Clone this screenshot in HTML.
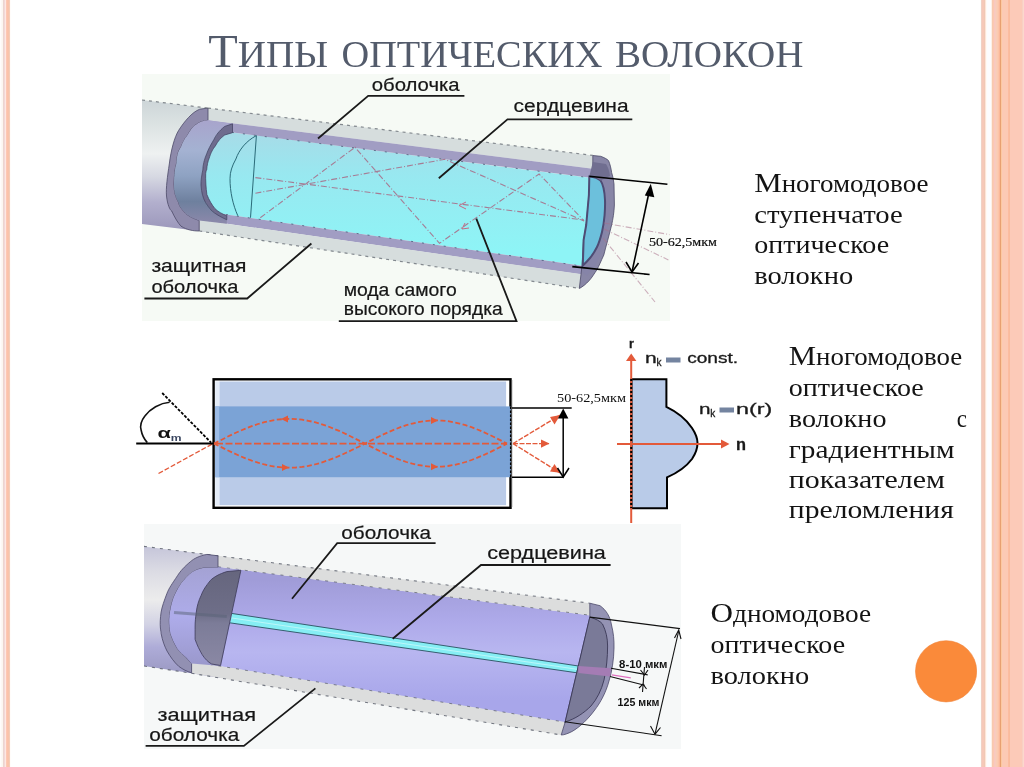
<!DOCTYPE html>
<html><head><meta charset="utf-8">
<style>
html,body{margin:0;padding:0;}
body{width:1024px;height:767px;position:relative;overflow:hidden;background:#fff;font-family:"Liberation Serif",serif;}
.a{position:absolute;}
#lb{left:0;top:0;width:11px;height:767px;background:linear-gradient(90deg,#fefdfb 0,#fefdfb 1px,#fdf8f4 1px,#fdf8f4 2px,#fcf6f0 2px,#fcf6f0 3px,#ecd5cf 3px,#ecd5cf 4px,#f2d8d8 4px,#f2d8d8 5px,#fde8e2 5px,#fde8e2 6px,#fcc8b4 6px,#fcc8b4 7px,#fcc2aa 7px,#fcc2aa 8px,#f8c4aa 8px,#f8c4aa 9px,#f4ccb8 9px,#f4ccb8 10px,#fffcfa 10px);}
#rb{left:980px;top:0;width:44px;height:767px;background:linear-gradient(90deg,#fdfdfb 0,#fdfdfb 1px,#f0d0c4 1px,#f0d0c4 2px,#f6c8b8 2px,#f6c8b8 4px,#f0c8b4 4px,#f0c8b4 5px,#fde4d8 5px,#fde4d8 6px,#fffaf4 6px,#fffaf4 7px,#fcfcfe 7px,#fcfcfe 11px,#fdf0e4 11px,#fdf0e4 12px,#f7c8b0 12px,#f7c8b0 13px,#fcc8b0 13px,#fcc8b0 14px,#f8c8c0 14px,#f8c8c0 15px,#f8ccbc 15px,#f8ccbc 16px,#f8ccb8 16px,#f8ccb8 17px,#fccab0 17px,#fccab0 18px,#fcc4a8 18px,#fcc4a8 19px,#fbb898 19px,#fbb898 20px,#e8a070 20px,#e8a070 21px,#fcc8a0 21px,#fcc8a0 22px,#fccab4 22px,#fccab4 28px,#fcbca0 28px,#fcbca0 29px,#f9bc9c 29px,#f9bc9c 30px,#fccab8 30px,#fccab8 42px,#f8d0c4 42px,#f8d0c4 43px,#fcd8cc 43px);}
</style></head><body>
<div id="lb" class="a"></div>
<div id="rb" class="a"></div>

<svg class="a" style="left:0;top:0" width="1024" height="767" viewBox="0 0 1024 767">
<defs>
<linearGradient id="gj1" gradientUnits="userSpaceOnUse" x1="0" y1="100" x2="0" y2="228">
<stop offset="0" stop-color="#cdd5d8"/><stop offset="0.18" stop-color="#dbe2e2"/><stop offset="0.42" stop-color="#eef1f1"/><stop offset="0.6" stop-color="#d6d8e2"/><stop offset="0.8" stop-color="#b2afcd"/><stop offset="1" stop-color="#9d99bc"/>
</linearGradient>
<linearGradient id="gc1" gradientUnits="userSpaceOnUse" x1="0" y1="135" x2="0" y2="250">
<stop offset="0" stop-color="#a6dce8"/><stop offset="0.35" stop-color="#98e8f0"/><stop offset="1" stop-color="#8ef4f6"/>
</linearGradient>
<linearGradient id="gf1" gradientUnits="userSpaceOnUse" x1="0" y1="120" x2="0" y2="222">
<stop offset="0" stop-color="#a8a4cc"/><stop offset="0.3" stop-color="#a4b2d2"/><stop offset="0.55" stop-color="#8ea2c2"/><stop offset="0.8" stop-color="#6e809e"/><stop offset="1" stop-color="#8a88aa"/>
</linearGradient>
<linearGradient id="gj3" gradientUnits="userSpaceOnUse" x1="0" y1="547" x2="0" y2="672">
<stop offset="0" stop-color="#c6c6da"/><stop offset="0.2" stop-color="#dcdce4"/><stop offset="0.42" stop-color="#ececec"/><stop offset="0.62" stop-color="#d2d2e4"/><stop offset="0.8" stop-color="#aeacd8"/><stop offset="1" stop-color="#9c9ac4"/>
</linearGradient>
<linearGradient id="gcl3" gradientUnits="userSpaceOnUse" x1="0" y1="580" x2="0" y2="700">
<stop offset="0" stop-color="#a09cd8"/><stop offset="0.35" stop-color="#aeaaea"/><stop offset="0.6" stop-color="#b8b6f0"/><stop offset="1" stop-color="#a8a6ea"/>
</linearGradient>
<linearGradient id="gf3" gradientUnits="userSpaceOnUse" x1="0" y1="568" x2="0" y2="665">
<stop offset="0" stop-color="#a4a2d4"/><stop offset="0.5" stop-color="#aeacea"/><stop offset="1" stop-color="#9a98cc"/>
</linearGradient>
<linearGradient id="gd3" gradientUnits="userSpaceOnUse" x1="0" y1="572" x2="0" y2="665">
<stop offset="0" stop-color="#66667e"/><stop offset="0.45" stop-color="#6e6e88"/><stop offset="0.55" stop-color="#7c7c98"/><stop offset="1" stop-color="#8a88a4"/>
</linearGradient>
</defs>

<g id="d1">
<rect x="142" y="74" width="528" height="247" fill="#f6faf5"/>
<!-- intact jacket cylinder -->
<path d="M142 100 L210 108.4 L210 232 L199.2 231 L142 224 Z" fill="url(#gj1)"/>
<!-- core -->
<path d="M205 128.9 L594 178.3 L585 266.2 L205 211.4 Z" fill="url(#gc1)"/>
<!-- top jacket strip -->
<path d="M208 108.1 L592.8 155.4 L592.8 168.8 L208 120.3 Z" fill="#d6dddd"/>
<path d="M208 108.1 L592.8 155.4" stroke="#6a7078" stroke-width="1.2" stroke-dasharray="3 4" fill="none" opacity="0.8"/>
<!-- top cladding band -->
<path d="M208 120.3 L592.8 168.8 L592.8 178.1 L208 129.3 Z" fill="#a19dc3"/>
<path d="M232 132.4 L592.8 178.1" stroke="#4a5a78" stroke-width="1" stroke-dasharray="2 9" fill="none" opacity="0.8"/>
<!-- bottom cladding band -->
<path d="M205 211.4 L585 266.2 L584 274.8 L205 220.6 Z" fill="#a19dc3"/>
<path d="M226 214.5 L580 265.8" stroke="#4a5a78" stroke-width="1" stroke-dasharray="2 9" fill="none" opacity="0.8"/>
<!-- bottom jacket strip -->
<path d="M199.2 219.8 L584 274.6 L580.5 288.6 L199.2 231 Z" fill="#d6dddd"/>
<path d="M199.2 231 L579.3 288.4" stroke="#6a7078" stroke-width="1.2" stroke-dasharray="3 4" fill="none" opacity="0.8"/>
<!-- left jacket ring (annulus) -->
<path d="M208 108.1 L199.8 109.2 C192 112 184 122 178.7 130.3 C174.5 137 171 150 169.3 164 C167.5 176 165.8 188 166.5 196 C167.5 205 170 210 171.7 211 C175 218 178 223 181 226.2 C187 230 193 231 199.2 231 L199.2 220.4 C194 219 189 216 186.9 214.5 C183 211 179 206 178.7 202.8 C175.5 197 174 192 174 184 C174.3 175 175 168 176.4 164 C177 156 178 151 180.9 147.5 C183 142 185 138 187.2 135.8 C190 131 193 126 195.8 124.9 C199 122 203 121 208 120.3 Z" fill="#8e8aab" stroke="#4c4a68" stroke-width="0.8"/>
<!-- cladding end face -->
<path d="M208 120.3 C203 121 199 122 195.8 124.9 C193 126 190 131 187.2 135.8 C185 138 183 142 180.9 147.5 C178 151 177 156 176.4 164 C175 168 174.3 175 174 184 C174 192 175.5 197 178.7 202.8 C179 206 183 211 186.9 214.5 C189 216 194 219 199.2 220.4 L226.8 223.7 L226.8 219.8 C223 218 219 216 215 213.3 C211 211 208.5 207 205.7 202.8 C203 198 201.5 193 201 185.2 C201 180 201.5 176 202.8 170 C203 165 204 160 206.7 153.8 C208 150 210 146 213.8 139.7 C216 135 219 131 224.7 126.4 L232.5 123.8 Z" fill="url(#gf1)"/>
<!-- cladding step (dark) -->
<path d="M232.5 123.8 L224.7 126.4 C219 131 216 135 213.8 139.7 C210 146 208 150 206.7 153.8 C204 160 203 165 202.8 170 C201.5 176 201 180 201 185.2 C201.5 193 203 198 205.7 202.8 C208.5 207 211 211 215 213.3 C219 216 223 218 226.8 219.8 L226.8 215.7 C222 214 218 211.5 215 208.7 C212 205 209 200 206.9 194.6 C206 188 205.5 180 205.7 173.5 C206 171 206.2 170.5 206.7 170 C207 165 208 161 209.1 158.5 C211 152 213 149 215.3 146 C218 141 221 137.5 224.7 135 L232.5 132.7 Z" fill="#6e6c8e" stroke="#3e3c5c" stroke-width="0.7"/>
<!-- core D outline -->
<path d="M256.4 135.6 C246 141 239 150 235.9 159 C232 166 230 172 230 178.6 C230 192 233 205 237.8 215.7 M256.4 135.6 L250.5 217.7" fill="none" stroke="#2a6a78" stroke-width="1"/>
<!-- right end face: jacket ring -->
<path d="M592.8 155.5 L600.7 156.3 C604 157.5 607 159 608.5 160.6 C610 164 611 168 611.6 172.4 C612.8 176 613.6 180 614 184 L614.4 205 C614 213 613 219 611.6 225 C609 236 606 246 603.8 255 C601 261 599 266 596.9 269.7 C594 274 592 277.5 589.1 280.7 C586 284 583 286.5 579.3 288.5 L582 265.8 L583.6 240 L586.2 225 L588.9 195 L592.8 168 Z" fill="#8886a6" stroke="#4c4a68" stroke-width="0.8"/>
<!-- cladding ring on end face -->
<path d="M592.8 168 L604 168.5 C607 172 608.5 176 609.5 182 L610 205 C609.5 215 608.5 222 607 228 C604.5 240 602 250 599 258 C596 265 592 271 587 276 L582 272 L583.6 240 L586.2 225 L588.9 195 Z" fill="#8684a8"/>
<!-- core end face -->
<path d="M589.3 176.5 C594 177 598 178 600.5 180.5 C603 184 604.6 192 605 200 C605.2 206 605 210 604.6 215 C604 222 603.2 227 602 232 C600.5 238 599 243 597 247 C595 251 592.5 255 590 258 C587.5 261 585 263.5 582.8 265.5 L583.6 240 L586.2 225 L588.9 195 Z" fill="#6cc0dc" stroke="#4e4c74" stroke-width="2"/>
<path d="M592.8 162 L606 164 C608 167 609.5 171 610 176 L600.5 180.5 C598 178 594 177 589.3 176.5 Z" fill="#706e90"/>
</g>

<g id="d1b">
<path d="M142 100 L208 108.1" stroke="#6a7078" stroke-width="1.2" stroke-dasharray="3 4" fill="none" opacity="0.8"/>
<!-- rays -->
<g fill="none" stroke="#a8708a" stroke-width="1.1" stroke-dasharray="6 2 1 2" opacity="0.9">
<path d="M255.4 177.6 L584 220"/>
<path d="M255.4 193.2 L445 159.3 L584 221"/>
<path d="M260.3 217.7 L355 147.3 L439.5 243.3 L539.1 174 L584 220.8"/>
<path d="M604 223 L669.5 234.6 M604 229 L668.4 259.9 M603 238 L655 302" opacity="0.6"/>
</g>
<path d="M465 223 L462 229 L469 228" fill="none" stroke="#c46a84" stroke-width="1"/>
<path d="M466 202 L459 205.5 L466 209" fill="none" stroke="#c46a84" stroke-width="1"/>
<!-- dimension -->
<g stroke="#000" stroke-width="1.6" fill="none">
<path d="M589.3 176.3 L667.4 184.3"/>
<path d="M572.3 266.6 L649.6 274.5"/>
<path d="M649.5 190 L632 271.8"/>
<path d="M626 262 L632 272 L638.5 263"/>
</g>
<path d="M650.8 183.8 L644.8 195.5 L654.3 197.2 Z" fill="#000"/>
<text x="649" y="245.5" font-family="Liberation Serif" font-size="13" textLength="68" lengthAdjust="spacingAndGlyphs" fill="#111" stroke="#111" stroke-width="0.2">50-62,5мкм</text>
<!-- leaders -->
<g stroke="#1a1a1a" stroke-width="1.8" fill="none">
<path d="M318 138.5 L368.2 95.8 L464.4 95.8"/>
<path d="M438.8 178.2 L507.5 119.4 L632.3 119.4"/>
<path d="M311.4 243.5 L247.2 298.5 L144.4 298.5"/>
<path d="M476.3 218.7 L516.5 321.2 L338.8 321.2"/>
</g>
<g font-family="Liberation Sans" font-size="17.5" fill="#161616" stroke="#161616" stroke-width="0.2">
<text x="371.7" y="90.7" textLength="88" lengthAdjust="spacingAndGlyphs">оболочка</text>
<text x="513.6" y="112" textLength="115" lengthAdjust="spacingAndGlyphs">сердцевина</text>
<text x="151.4" y="272" textLength="95" lengthAdjust="spacingAndGlyphs">защитная</text>
<text x="151.4" y="293" textLength="87" lengthAdjust="spacingAndGlyphs">оболочка</text>
<text x="343.7" y="296.1" textLength="113" lengthAdjust="spacingAndGlyphs">мода самого</text>
<text x="343.7" y="314.8" textLength="159" lengthAdjust="spacingAndGlyphs">высокого порядка</text>
</g>
</g>

<g id="d2">
<!-- fiber rect -->
<rect x="213.6" y="379.3" width="296.9" height="128.5" fill="#fff" stroke="#000" stroke-width="2.4"/>
<rect x="219.3" y="381.5" width="286.8" height="123.7" fill="#bacbe8"/>
<rect x="215.2" y="381.5" width="4.1" height="124" fill="#e4ecf8"/>
<rect x="215.2" y="406.4" width="295.6" height="70.8" fill="#7ba3d6"/>
<rect x="215.2" y="406.4" width="4" height="70.8" fill="#9dbce6"/>
<path d="M510.6 406.4 L510.6 477.2" stroke="#000" stroke-width="1.3" stroke-dasharray="2.5 1.5"/>
<path d="M512 380 L512 507" stroke="#777" stroke-width="0.8" opacity="0.6"/>
<!-- rays -->
<g fill="none" stroke="#e35a3a" stroke-width="1.8">
<path d="M214.0 443.6 L220.3 440.4 L226.6 437.2 L232.9 434.1 L239.2 431.2 L245.5 428.6 L251.8 426.1 L258.0 424.0 L264.3 422.2 L270.6 420.8 L276.9 419.7 L283.2 419.1 L289.5 418.9 L295.8 419.1 L302.1 419.7 L308.4 420.8 L314.7 422.2 L321.0 424.0 L327.2 426.1 L333.5 428.6 L339.8 431.2 L346.1 434.1 L352.4 437.2 L358.7 440.4 L365.0 443.6 L370.9 446.6 L376.8 449.6 L382.8 452.5 L388.7 455.2 L394.6 457.7 L400.5 460.0 L406.4 462.0 L412.3 463.7 L418.2 465.0 L424.2 466.0 L430.1 466.6 L436.0 466.8 L441.9 466.6 L447.8 466.0 L453.8 465.0 L459.7 463.7 L465.6 462.0 L471.5 460.0 L477.4 457.7 L483.3 455.2 L489.2 452.5 L495.2 449.6 L501.1 446.6 L507.0 443.6" stroke-dasharray="5 2.5"/>
<path d="M214.0 443.6 L220.3 446.7 L226.6 449.8 L232.9 452.8 L239.2 455.7 L245.5 458.3 L251.8 460.6 L258.0 462.7 L264.3 464.5 L270.6 465.9 L276.9 466.9 L283.2 467.5 L289.5 467.7 L295.8 467.5 L302.1 466.9 L308.4 465.9 L314.7 464.5 L321.0 462.7 L327.2 460.6 L333.5 458.3 L339.8 455.7 L346.1 452.8 L352.4 449.8 L358.7 446.7 L365.0 443.6 L370.9 440.6 L376.8 437.6 L382.8 434.7 L388.7 432.0 L394.6 429.5 L400.5 427.2 L406.4 425.2 L412.3 423.5 L418.2 422.2 L424.2 421.2 L430.1 420.6 L436.0 420.4 L441.9 420.6 L447.8 421.2 L453.8 422.2 L459.7 423.5 L465.6 425.2 L471.5 427.2 L477.4 429.5 L483.3 432.0 L489.2 434.7 L495.2 437.6 L501.1 440.6 L507.0 443.6" stroke-dasharray="5 2.5"/>
<path d="M216 443.6 L507 443.6" stroke-dasharray="7 2.5"/>
<path d="M158.5 473.5 L213 443.6" stroke-width="1.3" stroke-dasharray="5 2"/>
<path d="M513 443.6 L560.3 415 M513 443.6 L549 443.6 M513 443.6 L560 472.8" stroke-width="1.4" stroke-dasharray="5 1.5"/>
</g>
<g fill="#e35a3a">
<path d="M281 415.5 L288 419 L281 422.5 Z" transform="rotate(180 284.5 419)"/>
<path d="M282 464 L289 467.5 L282 471 Z"/>
<path d="M431 417 L438 420.5 L431 424 Z"/>
<path d="M431 463.3 L438 466.8 L431 470.3 Z"/>
<path d="M560.3 415 L550 417 L554.5 424.5 Z"/>
<path d="M549.5 443.6 L541 439.5 L541 447.7 Z"/>
<path d="M560 472.8 L554.5 464 L550 471.5 Z"/>
</g>
<!-- left angle -->
<path d="M136.2 443.6 L213 443.6" stroke="#000" stroke-width="2"/>
<path d="M162.2 393 L211.1 442.6" stroke="#000" stroke-width="1.8" stroke-dasharray="3 1.5"/>
<path d="M169.6 402.3 C160 403 150 409 144.9 416 C141 421 140 426 141.1 430 C142 435 144 439 147.3 442.6" fill="none" stroke="#111" stroke-width="1.6"/>
<text x="157.5" y="437.5" font-family="Liberation Sans" font-weight="bold" font-size="14" fill="#111" textLength="13.4" lengthAdjust="spacingAndGlyphs">α</text>
<text x="170.8" y="440.5" font-family="Liberation Sans" font-weight="bold" font-size="9.5" fill="#3a4660" textLength="10.8" lengthAdjust="spacingAndGlyphs">m</text>
<!-- dimension -->
<g stroke="#000" stroke-width="1.5" fill="none">
<path d="M512 408.1 L571.7 408.1"/>
<path d="M512 477.3 L563.6 477.3"/>
<path d="M563.2 416 L563.2 476.5"/>
<path d="M557.5 468 L563.2 477 L569 468"/>
</g>
<path d="M563.2 408.5 L558 418.5 L568.4 418.5 Z" fill="#000"/>
<text x="557" y="401.9" font-family="Liberation Serif" font-size="12.5" textLength="69" lengthAdjust="spacingAndGlyphs" fill="#111">50-62,5мкм</text>
<!-- n profile -->
<path d="M631.5 379.2 L666.4 379.2 L666.4 406.9 C675 411 686 419 692 428 C696 434 697.5 439 697.5 443 C697.5 448 696 453 692 459 C686 467 677 473 667 477.4 L667 508.2 L631.5 508.2 Z" fill="#b9cbe8" stroke="#000" stroke-width="2"/>
<path d="M631.2 523 L631.2 358" stroke="#e35a3a" stroke-width="2"/>
<path d="M631.2 379 L631.2 508" stroke="#000" stroke-width="2" stroke-dasharray="2 2"/>
<path d="M631.2 353.5 L626 361 L636.4 361 Z" fill="#e35a3a"/>
<path d="M617 444 L722 444" stroke="#e35a3a" stroke-width="2"/>
<path d="M729.5 444 L721 439.5 L721 448.5 Z" fill="#e35a3a"/>
<g font-family="Liberation Sans" fill="#1a1a1a" stroke="#1a1a1a" stroke-width="0.3">
<text x="629" y="347.5" font-size="12.5" font-weight="bold">r</text>
<text x="736" y="449.8" font-size="17" font-weight="bold" textLength="10" lengthAdjust="spacingAndGlyphs">n</text>
<text x="645" y="363" font-size="15" textLength="11.7" lengthAdjust="spacingAndGlyphs">n</text>
<text x="656.5" y="366" font-size="10">k</text>
<text x="687.2" y="363" font-size="15" textLength="51" lengthAdjust="spacingAndGlyphs">const.</text>
<text x="698.9" y="414" font-size="15" textLength="11.5" lengthAdjust="spacingAndGlyphs">n</text>
<text x="710.2" y="417" font-size="10">k</text>
<text x="736" y="414" font-size="15" textLength="36.3" lengthAdjust="spacingAndGlyphs">n(r)</text>
</g>
<rect x="666" y="357.5" width="14.5" height="5" fill="#7484a0"/>
<rect x="719.5" y="407.5" width="14.5" height="5" fill="#7484a0"/>
</g>

<g id="d3">
<rect x="144" y="524" width="537" height="225" fill="#f6f8f8"/>
<!-- intact jacket -->
<path d="M144 546.4 L220 556.1 L220 678 L191.6 673.3 L144 666 Z" fill="url(#gj3)"/>
<!-- cladding (lavender) -->
<path d="M218 566.8 L589.8 615.2 L589.8 617.1 L565 722.6 L218 666 Z" fill="url(#gcl3)"/>
<!-- top strip -->
<path d="M218 555.8 L589.8 603.2 L589.8 615.4 L218 566.8 Z" fill="#dcdddd"/>
<path d="M144 546.4 L589.8 603.2" stroke="#555a66" stroke-width="1.1" stroke-dasharray="3 5" fill="none" opacity="0.8"/>
<path d="M218 566.8 L589.8 615.2" stroke="#555a66" stroke-width="1" stroke-dasharray="3 6" fill="none" opacity="0.7"/>
<!-- bottom strip -->
<path d="M191.6 661.5 L565 722.1 L561.2 735 L191.6 673.3 Z" fill="#dcdddd"/>
<path d="M144 666 L191.6 673.3 L561.2 735" stroke="#555a66" stroke-width="1.1" stroke-dasharray="3 5" fill="none" opacity="0.8"/>
<path d="M191.6 661.5 L565 722.1" stroke="#555a66" stroke-width="1" stroke-dasharray="3 6" fill="none" opacity="0.7"/>
<!-- core -->
<path d="M226.8 612.7 L578.4 666 L578.4 673 L226.8 622.4 Z" fill="#86eef4" stroke="#2a5060" stroke-width="0.9"/>
<path d="M232 618 L578.4 669.5" stroke="#c8f8fa" stroke-width="1" opacity="0.8"/>
<!-- left jacket ring -->
<path d="M218 555.8 L206.9 554.4 C199 556 194 558.5 190.4 561.7 C184 567 180.5 571 177.5 575.7 C172 584 169 588 167 593.3 C164 601 162 607 161.1 612.1 C160.2 618 160 624 160.4 628 C160.8 631 161 632 161.1 633.5 C162.5 641 164.5 646 167 651 C170.5 657 174 662 178.7 666.3 C183 669.5 187 671.5 191.6 672.8 L191.6 663.4 C190 662 188.5 660 186.9 658.1 C183.5 655 180 652 177.5 648.7 C174 643 172 638 170.5 633.5 C169.5 628 169.3 624 169.3 620 C169.5 614 170.5 609 171.7 603.9 C173.5 597 176 592 178.7 587.5 C182 582 185.5 578 189.3 574.6 C193.5 571 198 569 203.3 568.1 L218 567.5 Z" fill="#9290b2" stroke="#4a4868" stroke-width="0.8"/>
<!-- cladding end face -->
<path d="M218 567.5 L203.3 568.1 C198 569 193.5 571 189.3 574.6 C185.5 578 182 582 178.7 587.5 C176 592 173.5 597 171.7 603.9 C170.5 609 169.5 614 169.3 620 C169.3 624 169.5 628 170.5 633.5 C172 638 174 643 177.5 648.7 C180 652 183.5 655 186.9 658.1 C188.5 660 190 662 191.6 663.4 L221 666 L241 569.8 Z" fill="url(#gf3)"/>
<!-- dark half disc -->
<path d="M240.9 570.3 L226.8 571.6 C219 574 214 577 210.4 580.4 C206 586 203 590 201 595.7 C198.5 601 197 606 196.3 612.1 C195.5 618 195.1 622 195.1 626 C195.1 631 195.1 635 195.1 639.3 C197 645 199.5 650 202.2 654.6 C205 659 208 662 211.6 664 L220.5 665.5 Z" fill="url(#gd3)" stroke="#3c3a58" stroke-width="0.8"/>
<path d="M174 612.5 L226.8 616.5" stroke="#5a6478" stroke-width="3" opacity="0.5"/>
<!-- right end face -->
<path d="M589.8 603.2 L600 605.7 C606 610 610 616 611.5 625 C613.5 633 614.2 640 614 648 C613.8 660 612 671 609 681 C606 692 601 702 594 711 C588 719 580 727 572 731.5 C568 733.5 564 735 561.2 735 L565 722.6 L589.8 617.1 Z" fill="#9493b4" stroke="#4a4868" stroke-width="0.8"/>
<path d="M589.8 617.1 C596 619 600 621 602.5 624 C606 631 607.6 638 607.6 646 C607.6 657 606.5 669 604 680 C601.5 690 597 699 591 706 C584 713 575 719 565.6 721.8 L565 722.6 Z" fill="#7a7a98" stroke="#3a3856" stroke-width="0.9"/>
<path d="M578.4 666 L611 668.3 L610 676.5 L578.4 673 Z" fill="#a47cb4"/>
<!-- dimension lines -->
<g stroke="#111" stroke-width="1.1" fill="none">
<path d="M589.8 617.1 L680 628.6"/>
<path d="M564.9 721.8 L661.6 735.7"/>
<path d="M678.7 631 L655 734.2"/>
<path d="M650.5 726 L655 734.2 L660.5 727.5"/>
<path d="M674.5 638 L678.7 630 L681 639"/>
<path d="M611 668.3 L647.7 674.9 M610 676.5 L644.7 685.2 M644.5 667 L642.5 692"/>
<path d="M640.5 670 L644.5 675 L648 670 M639 688 L643 684 L646.5 689"/>
</g>
<path d="M611.8 674.9 L630.8 677.8" stroke="#e070c0" stroke-width="1.2"/>
<g font-family="Liberation Sans" font-weight="bold" fill="#111" font-size="10.5" lengthAdjust="spacingAndGlyphs">
<text x="619.1" y="668.3" textLength="48.3" lengthAdjust="spacingAndGlyphs">8-10 мкм</text>
<text x="617.6" y="706.4" textLength="41.8" lengthAdjust="spacingAndGlyphs">125 мкм</text>
</g>
<!-- leaders -->
<g stroke="#1a1a1a" stroke-width="1.8" fill="none">
<path d="M292 598.7 L337.2 543.1 L435.6 543.1"/>
<path d="M392.7 638.7 L481 565 L610.6 565"/>
<path d="M315.4 688.4 L243.9 745.9 L145.6 745.9"/>
</g>
<g font-family="Liberation Sans" font-size="17.5" fill="#161616" stroke="#161616" stroke-width="0.2">
<text x="341.3" y="539.4" textLength="89.7" lengthAdjust="spacingAndGlyphs">оболочка</text>
<text x="487.2" y="558.8" textLength="118.7" lengthAdjust="spacingAndGlyphs">сердцевина</text>
<text x="157.6" y="720.5" textLength="98.4" lengthAdjust="spacingAndGlyphs">защитная</text>
<text x="149.3" y="741.2" textLength="90" lengthAdjust="spacingAndGlyphs">оболочка</text>
</g>
</g>

<g font-family="Liberation Serif" font-size="24.5" fill="#141414" lengthAdjust="spacingAndGlyphs">
<text x="754.2" y="191.7" textLength="174.3" lengthAdjust="spacingAndGlyphs"><tspan font-size="28">М</tspan>ногомодовое</text>
<text x="754.2" y="222.5" textLength="148.5" lengthAdjust="spacingAndGlyphs">ступенчатое</text>
<text x="754.2" y="253.1" textLength="135" lengthAdjust="spacingAndGlyphs">оптическое</text>
<text x="754.2" y="283.9" textLength="99" lengthAdjust="spacingAndGlyphs">волокно</text>
<text x="788.8" y="365.4" textLength="173.3" lengthAdjust="spacingAndGlyphs"><tspan font-size="28">М</tspan>ногомодовое</text>
<text x="788.8" y="395.9" textLength="135" lengthAdjust="spacingAndGlyphs">оптическое</text>
<text x="788.8" y="426.7" textLength="97.7" lengthAdjust="spacingAndGlyphs">волокно</text>
<text x="956.8" y="426.7" textLength="10.2" lengthAdjust="spacingAndGlyphs">с</text>
<text x="788.8" y="457.6" textLength="165.8" lengthAdjust="spacingAndGlyphs">градиентным</text>
<text x="788.8" y="488.3" textLength="156.2" lengthAdjust="spacingAndGlyphs">показателем</text>
<text x="788.8" y="518.2" textLength="165" lengthAdjust="spacingAndGlyphs">преломления</text>
<text x="710.5" y="621.6" textLength="160.5" lengthAdjust="spacingAndGlyphs"><tspan font-size="28">О</tspan>дномодовое</text>
<text x="710.5" y="652.6" textLength="134.6" lengthAdjust="spacingAndGlyphs">оптическое</text>
<text x="710.5" y="683.7" textLength="98.8" lengthAdjust="spacingAndGlyphs">волокно</text>
</g>

<g font-family="Liberation Serif" fill="#535b6b" lengthAdjust="spacingAndGlyphs">
<text x="208.2" y="67" font-size="38" textLength="120" lengthAdjust="spacingAndGlyphs"><tspan font-size="47">Т</tspan>ИПЫ</text>
<text x="341.5" y="67" font-size="38" textLength="261" lengthAdjust="spacingAndGlyphs">ОПТИЧЕСКИХ</text>
<text x="615" y="67" font-size="38" textLength="188.5" lengthAdjust="spacingAndGlyphs">ВОЛОКОН</text>
</g>

<circle cx="946.1" cy="671.3" r="30.6" fill="#fa8a3a" stroke="#f08236" stroke-width="0.6"/>
</svg>

</body></html>
